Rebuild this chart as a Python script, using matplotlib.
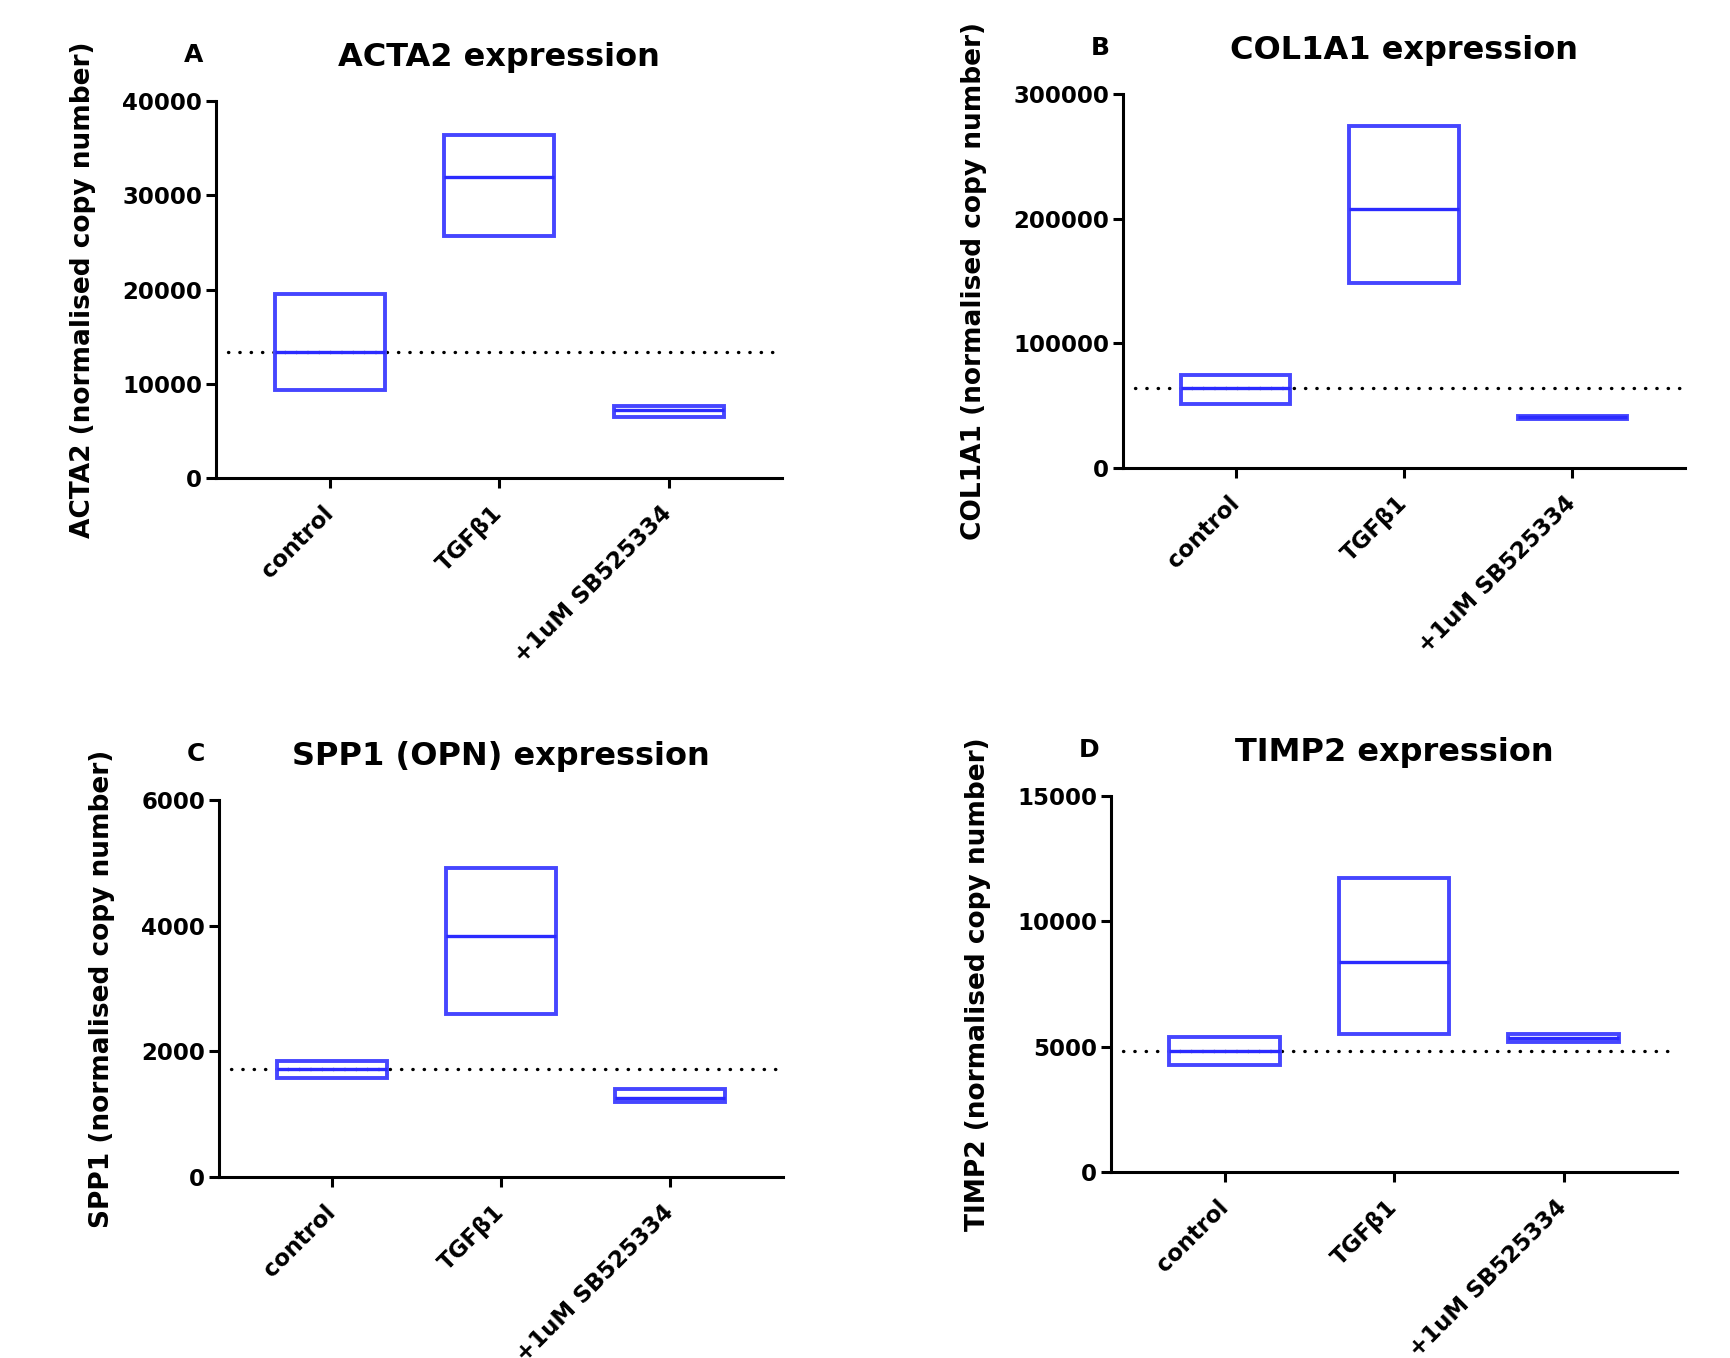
import numpy as np
import matplotlib.pyplot as plt

# groups on the x axis
groups = ['control', 'TGFβ1', '+1uM SB525334']

# floating bars: min / mean / max per group
acta2_min = [9350, 25700, 6500]
acta2_mean = [13400, 31900, 7200]
acta2_max = [19550, 36400, 7600]

col1a1_min = [51400, 148600, 39000]
col1a1_mean = [63900, 207600, 40500]
col1a1_max = [74700, 274000, 42000]

spp1_min = [1580, 2600, 1200]
spp1_mean = [1720, 3840, 1250]
spp1_max = [1850, 4920, 1400]

timp2_min = [4270, 5500, 5170]
timp2_mean = [4820, 8360, 5360]
timp2_max = [5400, 11730, 5500]

BOX = '#4646ff'
MID = '#2b2bff'

plt.rcParams['font.family'] = 'DejaVu Sans'
plt.rcParams['font.weight'] = 'bold'

fig = plt.figure(figsize=(17.3, 13.58), dpi=100)

panels = [
    ([0.1249, 0.6480, 0.3272, 0.2776], 'A', 'ACTA2 expression',
     'ACTA2 (normalised copy number)', acta2_min, acta2_mean, acta2_max, 40000, 10000),
    ([0.6491, 0.6554, 0.3249, 0.2754], 'B', 'COL1A1 expression',
     'COL1A1 (normalised copy number)', col1a1_min, col1a1_mean, col1a1_max, 300000, 100000),
    ([0.1266, 0.1333, 0.3260, 0.2776], 'C', 'SPP1 (OPN) expression',
     'SPP1 (normalised copy number)', spp1_min, spp1_mean, spp1_max, 6000, 2000),
    ([0.6422, 0.1370, 0.3272, 0.2769], 'D', 'TIMP2 expression',
     'TIMP2 (normalised copy number)', timp2_min, timp2_mean, timp2_max, 15000, 5000),
]

x = np.arange(len(groups))
w = 0.65

for rect, letter, title, ylabel, lo, mid, hi, ymax, ystep in panels:
    ax = fig.add_axes(rect)
    lo = np.array(lo)
    hi = np.array(hi)
    mid = np.array(mid)

    # dotted reference line at the control mean
    ax.hlines(mid[0], -0.6, 2.67, colors='black', linewidth=2.4,
              linestyles=(0, (0.1, 3.3)), capstyle='round', zorder=1)

    ax.bar(x, hi - lo, bottom=lo, width=w, fill=False, edgecolor=BOX,
           linewidth=2.8, joinstyle='miter', zorder=2)
    ax.hlines(mid, x - w / 2, x + w / 2, colors=MID, linewidth=2.4, zorder=3)

    ax.set_xlim(-0.67, 2.67)
    ax.set_ylim(0, ymax)
    ax.set_yticks(np.arange(0, ymax + 1, ystep))
    ax.set_xticks(x)
    ax.set_xticklabels(groups, rotation=45, ha='right', va='center',
                       rotation_mode='anchor', fontsize=16.5, fontweight='bold')
    for lab in ax.get_yticklabels():
        lab.set_fontsize(16.5)
        lab.set_fontweight('bold')

    for s in ['top', 'right']:
        ax.spines[s].set_visible(False)
    for s in ['left', 'bottom']:
        ax.spines[s].set_linewidth(2.2)
    ax.tick_params(axis='both', width=2.2, length=7)
    ax.tick_params(axis='y', pad=3)
    ax.tick_params(axis='x', pad=16)

    ax.set_ylabel(ylabel, fontsize=19, fontweight='bold', labelpad=19)
    ax.set_title(title, fontsize=23, fontweight='bold', pad=25)
    ax.annotate(letter, xy=(0, 1), xycoords='axes fraction', xytext=(-23, 28),
                textcoords='offset points', ha='left', va='baseline',
                fontsize=18, fontweight='bold')

fig.savefig('out.png', dpi=100)
